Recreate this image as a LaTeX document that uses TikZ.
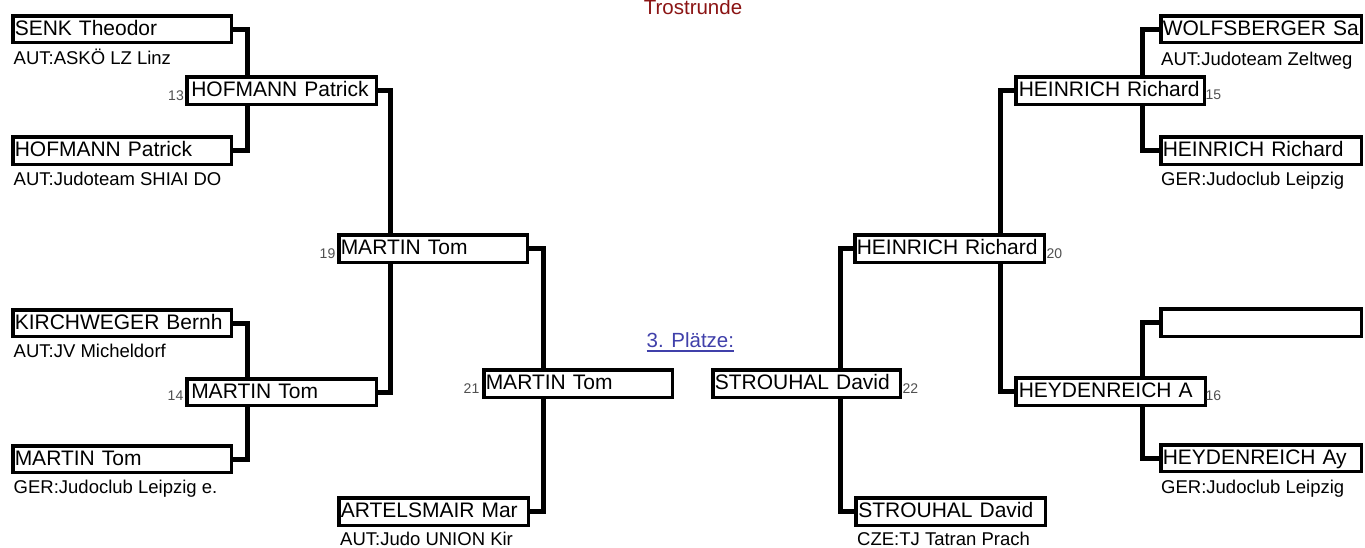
\documentclass[tikz,border=0pt]{standalone}
\usepackage{fontspec}
\setmainfont{Liberation Sans}
\usetikzlibrary{backgrounds}
\definecolor{numgray}{RGB}{80,80,80}
\definecolor{trostred}{RGB}{139,20,20}
\definecolor{linkblue}{RGB}{64,64,170}
% name, left, top, right, bottom, pad, text
\newcommand\mkbox[7]{%
  \pgfmathsetmacro\bw{#4-#2-3.5}%
  \pgfmathsetmacro\bh{#5-#3-3.5}%
  \pgfmathsetmacro\tw{#4-#2-3.5-2*#6}%
  \node[pbox, minimum width=\bw pt, minimum height=\bh pt, text width=\tw pt]
    (#1) at ({(#2+#4)/2},{(#3+#5)/2}) {#7};}
\begin{document}
\begin{tikzpicture}[x=1pt,y=-1pt,
  pbox/.style={draw, line width=3.5pt, fill=white, inner sep=0pt, outer sep=0pt,
    text height=16pt, text depth=4pt, align=left, font=\fontsize{21}{24}\selectfont},
  conn/.style={line width=5pt, line join=miter, line cap=butt},
  club/.style={anchor=base west, inner sep=0pt, font=\fontsize{18.5}{20}\selectfont},
  numl/.style={anchor=base east, inner sep=0pt, text=numgray, font=\fontsize{14}{14}\selectfont},
  numr/.style={anchor=base west, inner sep=0pt, text=numgray, font=\fontsize{14}{14}\selectfont},
  title/.style={inner sep=0pt, font=\fontsize{20.5}{22}\selectfont}]
\useasboundingbox (0,0) rectangle (1365,547);

% left half
\mkbox{A1}{11}{14}{233}{44}{2}{SENK Theodor}
\mkbox{A2}{11}{135}{233}{166}{2}{HOFMANN Patrick}
\mkbox{A3}{11}{308}{233}{338}{2}{KIRCHWEGER Bernh}
\mkbox{A4}{11}{444}{233}{474}{2}{MARTIN Tom}
\mkbox{B1}{185}{75}{378}{106}{4.5}{HOFMANN Patrick}
\mkbox{B2}{185}{377}{378}{407}{4.5}{MARTIN Tom}
\mkbox{C1}{337}{233}{529}{264}{2}{MARTIN Tom}
\mkbox{D1}{482}{368}{674}{399}{2}{MARTIN Tom}
\mkbox{E1}{337}{496}{530}{527}{2}{ARTELSMAIR Mar}

% right half
\mkbox{R1}{1159}{14}{1363}{44}{2}{WOLFSBERGER Sa}
\mkbox{R2}{1159}{135}{1363}{166}{2}{HEINRICH Richard}
\mkbox{R3}{1159}{307}{1363}{338}{2}{}
\mkbox{R4}{1159}{443}{1363}{473}{2}{HEYDENREICH Ay}
\mkbox{RB1}{1014}{75}{1206}{106}{3}{HEINRICH Richard}
\mkbox{RB2}{1014}{376}{1207}{407}{3}{HEYDENREICH A}
\mkbox{RC}{853}{233}{1046}{264}{2}{HEINRICH Richard}
\mkbox{S22}{711}{368}{902}{399}{2}{STROUHAL David}
\mkbox{SB}{854}{496}{1047}{527}{2.5}{STROUHAL David}

% clubs
\node[club] (cA1) at (13.5,64.5) {AUT:ASKÖ LZ Linz};
\node[club] (cA2) at (13.5,185) {AUT:Judoteam SHIAI DO};
\node[club] (cA3) at (13.5,357.5) {AUT:JV Micheldorf};
\node[club] (cA4) at (13.5,493.5) {GER:Judoclub Leipzig e.};
\node[club] (cE1) at (340,545) {AUT:Judo UNION Kir};
\node[club] (cR1) at (1161,65) {AUT:Judoteam Zeltweg};
\node[club] (cR2) at (1161,185) {GER:Judoclub Leipzig};
\node[club] (cR4) at (1161,493.5) {GER:Judoclub Leipzig};
\node[club] (cSB) at (857,545) {CZE:TJ Tatran Prach};

% fight numbers
\node[numl] (n13) at (184,100) {13};
\node[numl] (n14) at (183.5,400.5) {14};
\node[numl] (n19) at (335.5,258) {19};
\node[numl] (n21) at (479.5,393) {21};
\node[numr] (n15) at (1205.5,99) {15};
\node[numr] (n16) at (1205.5,400) {16};
\node[numr] (n20) at (1046.5,258) {20};
\node[numr] (n22) at (902.5,393) {22};

% titles
\node[title, anchor=base, text=trostred] (T) at (693,14) {Trostrunde};
\node[title, anchor=base west, text=linkblue] (P) at (646.5,347) {3. Plätze:};
\draw[linkblue, line width=1.3pt] ([yshift=-4pt]P.base west) -- ([yshift=-4pt]P.base east);

% connectors
\begin{scope}[on background layer]
  \fill[white] (0,0) rectangle (1365,547);
  \draw[conn] (A1.east) -- ++(15.75,0) |- (A2.east);
  \draw[conn] (A3.east) -- ++(15.75,0) |- (A4.east);
  \draw[conn] (B1.east) -- ++(14.25,0) |- (B2.east);
  \draw[conn] (C1.east) -- ++(15.75,0) |- (E1.east);
  \draw[conn] (RC.west) -- ++(-14.75,0) |- (SB.west);
  \draw[conn] (RB1.west) -- ++(-15.75,0) |- (RB2.west);
  \draw[conn] (R1.west) -- ++(-18.75,0) |- (R2.west);
  \draw[conn] (R3.west) -- ++(-18.75,0) |- (R4.west);
\end{scope}
\end{tikzpicture}
\end{document}
